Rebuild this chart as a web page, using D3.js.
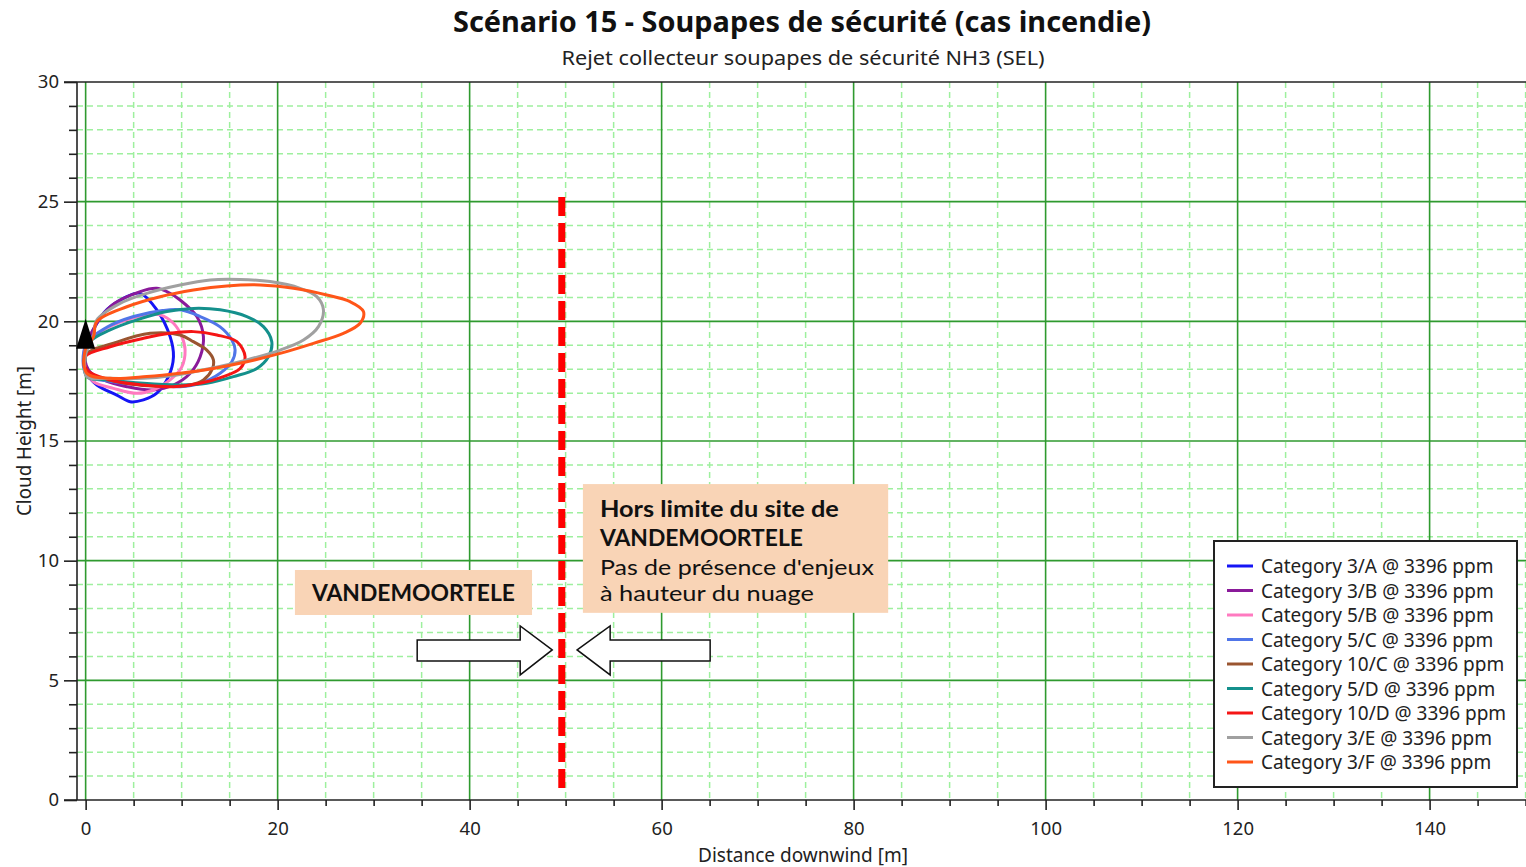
<!DOCTYPE html>
<html><head><meta charset="utf-8">
<script src="https://cdn.jsdelivr.net/npm/d3@7"></script>
<style>body{margin:0;background:#fff}svg{display:block}</style>
</head><body>
<svg id="c" width="1526" height="867"></svg>
<script>
const title = "Scénario 15 - Soupapes de sécurité (cas incendie)";
const subtitle = "Rejet collecteur soupapes de sécurité NH3 (SEL)";
const xLabel = "Distance downwind [m]";
const yLabel = "Cloud Height [m]";
const xTicks = [0,20,40,60,80,100,120,140];
const yTicks = [0,5,10,15,20,25,30];
const categories = ["Category 3/A @ 3396 ppm","Category 3/B @ 3396 ppm","Category 5/B @ 3396 ppm","Category 5/C @ 3396 ppm","Category 10/C @ 3396 ppm","Category 5/D @ 3396 ppm","Category 10/D @ 3396 ppm","Category 3/E @ 3396 ppm","Category 3/F @ 3396 ppm"];
const colors = ["#1515f5","#8a1a9a","#ff7ac0","#5075e8","#9a5530","#14908c","#f51515","#a0a0a0","#ff5518"];

const cat3A = [[0,18.87],[1.86,20.34],[3.94,20.96],[5.68,21.17],[7.41,20.48],[8.8,19.36],[9.15,18.52],[8.63,17.69],[7.41,17.0],[6.02,16.72],[4.64,16.64],[3.25,16.92],[1.17,17.34],[0.12,17.83],[-0.2,18.39]];
const cat3B = [[0,18.9],[2.55,20.61],[5.68,21.24],[7.41,21.38],[8.46,21.24],[9.84,20.89],[11.58,20.2],[12.27,19.36],[11.93,18.52],[10.89,17.83],[9.15,17.34],[7.06,17.13],[4.29,17.27],[1.86,17.55],[0.3,17.97]];
const cat5B = [[0,19.0],[1.86,19.64],[4.29,20.06],[6.37,20.27],[7.76,20.27],[9.15,19.92],[10.02,19.36],[10.36,18.8],[10.02,18.1],[8.8,17.55],[7.06,17.13],[5.33,16.99],[2.9,17.2],[0.81,17.48],[0.0,18.0]];
const cat5C = [[0,19.0],[2.2,19.75],[5.0,20.2],[8.0,20.45],[9.84,20.48],[11.93,20.2],[14.01,19.77],[15.23,19.22],[15.57,18.8],[15.23,18.31],[14.01,17.83],[11.93,17.41],[9.84,17.27],[6.0,17.35],[2.5,17.5],[0.1,17.75]];
const cat10C = [[0,18.6],[3.0,19.1],[6.72,19.5],[9.84,19.43],[11.22,19.15],[12.62,18.8],[13.31,18.39],[13.15,17.97],[12.27,17.55],[10.89,17.34],[7.0,17.3],[3.0,17.5],[0.1,17.85]];
const cat5D = [[0.47,19.15],[2.55,19.64],[5.33,20.06],[8.46,20.41],[11.23,20.54],[14.01,20.48],[16.79,20.2],[18.52,19.78],[19.39,19.15],[19.04,18.52],[17.83,18.03],[15.4,17.69],[12.62,17.41],[9.84,17.34],[6.02,17.41],[2.55,17.55],[0.12,17.69],[-0.05,18.5]];
const cat10D = [[-0.05,18.52],[2.55,18.94],[6.02,19.29],[8.8,19.5],[11.23,19.57],[13.67,19.43],[15.75,19.15],[16.61,18.52],[16.09,18.03],[14.35,17.69],[11.93,17.41],[9.15,17.27],[6.02,17.34],[2.55,17.55],[0.12,17.97]];
const cat3E = [[0.82,19.43],[1.17,20.06],[3.59,20.75],[6.37,21.17],[9.84,21.52],[12.97,21.73],[16.09,21.75],[19.22,21.66],[22.34,21.38],[24.08,21.03],[24.77,20.48],[24.25,19.78],[22.69,19.22],[20.26,18.8],[16.79,18.39],[12.97,18.03],[9.5,17.76],[6.02,17.62],[2.55,17.62],[0.12,17.69],[0,18.6]];
const cat3F = [[-0.05,18.8],[0.82,19.36],[1.17,19.99],[4.29,20.61],[7.76,21.03],[11.23,21.31],[14.71,21.48],[18.18,21.52],[21.65,21.38],[25.12,21.1],[27.55,20.82],[28.94,20.41],[28.59,19.92],[26.85,19.5],[23.73,19.08],[20.26,18.66],[16.79,18.31],[13.31,18.03],[9.84,17.83],[6.37,17.69],[2.55,17.62],[0.12,17.83]];
const seriesData = [cat3A,cat3B,cat5B,cat5C,cat10C,cat5D,cat10D,cat3E,cat3F];
const source = [0, 19.4];
const siteLimitX = 49.6;
const siteLimitY = [0.3, 25.2];

const svg = d3.select("#c");
const x = d3.scaleLinear().domain([-0.9,150]).range([77,1525.6]);
const y = d3.scaleLinear().domain([0,30]).range([800,82]);
const X0 = 77, X1 = 1526, Y0 = 800, Y1 = 82;
const uiFont = "'Noto Sans', 'Open Sans', sans-serif";

// grid
const g = svg.append("g");
g.selectAll(".mx").data(d3.range(5,151,5).filter(v=>v%20!==0)).join("line")
  .attr("x1",d=>x(d)).attr("x2",d=>x(d)).attr("y1",Y1).attr("y2",Y0)
  .attr("stroke","#9ef09e").attr("stroke-width",1.5).attr("stroke-dasharray","6,4");
g.selectAll(".my").data(d3.range(1,30).filter(v=>v%5!==0)).join("line")
  .attr("x1",X0).attr("x2",X1).attr("y1",d=>y(d)).attr("y2",d=>y(d))
  .attr("stroke","#9ef09e").attr("stroke-width",1.5).attr("stroke-dasharray","6,4");
g.selectAll(".Mx").data(xTicks).join("line")
  .attr("x1",d=>x(d)).attr("x2",d=>x(d)).attr("y1",Y1).attr("y2",Y0)
  .attr("stroke","#2f9a2f").attr("stroke-width",1.6);
g.selectAll(".My").data(yTicks.filter(v=>v>0&&v<30)).join("line")
  .attr("x1",X0).attr("x2",X1).attr("y1",d=>y(d)).attr("y2",d=>y(d))
  .attr("stroke","#2f9a2f").attr("stroke-width",1.6);

// axes
const xAxisMinor = d3.axisBottom(x).tickValues(d3.range(5,151,5).filter(v=>v%20!==0)).tickSize(6).tickFormat("");
const xAxisMajor = d3.axisBottom(x).tickValues(xTicks).tickSize(10).tickPadding(12);
const yAxisMinor = d3.axisLeft(y).tickValues(d3.range(1,30).filter(v=>v%5!==0)).tickSize(8).tickFormat("");
const yAxisMajor = d3.axisLeft(y).tickValues(yTicks).tickSize(13).tickPadding(5);
function styleAxis(sel){
  sel.select(".domain").remove();
  sel.selectAll("line").attr("stroke","#222").attr("stroke-width",1.6);
  sel.selectAll("text").attr("fill","#222").style("font-family",uiFont).style("font-size","18.5px");
}
svg.append("g").attr("transform",`translate(0,${Y0})`).call(xAxisMinor).call(styleAxis);
svg.append("g").attr("transform",`translate(0,${Y0})`).call(xAxisMajor).call(styleAxis);
svg.append("g").attr("transform",`translate(${X0},0)`).call(yAxisMinor).call(styleAxis);
svg.append("g").attr("transform",`translate(${X0},0)`).call(yAxisMajor).call(styleAxis);
// frame lines
svg.append("line").attr("x1",X0).attr("x2",X0).attr("y1",Y1).attr("y2",Y0).attr("stroke","#222").attr("stroke-width",1.6);
svg.append("line").attr("x1",64).attr("x2",X1).attr("y1",Y0).attr("y2",Y0).attr("stroke","#222").attr("stroke-width",1.6);
svg.append("line").attr("x1",64).attr("x2",X1).attr("y1",Y1).attr("y2",Y1).attr("stroke","#222").attr("stroke-width",1.6);

// clouds
const line = d3.line().x(d=>x(d[0])).y(d=>y(d[1])).curve(d3.curveCatmullRomClosed.alpha(0.5));
svg.append("g").selectAll("path").data(seriesData).join("path")
  .attr("d",line).attr("fill","none")
  .attr("stroke",(d,i)=>colors[i]).attr("stroke-width",3);

// source marker
const sx = x(source[0]), sy = y(source[1]);
svg.append("path").attr("d",`M${sx},${sy-17}L${sx+9.5},${sy+13}L${sx-9.5},${sy+13}Z`).attr("fill","#000");

// site limit
svg.append("line").attr("x1",x(siteLimitX)).attr("x2",x(siteLimitX))
  .attr("y1",y(siteLimitY[1])).attr("y2",y(siteLimitY[0]))
  .attr("stroke","#ff0000").attr("stroke-width",7).attr("stroke-dasharray","19,7");

// annotation boxes
const annFont = "'Lato', 'Noto Sans', sans-serif";
const box1 = {x0:21.8, x1:46.5, y0:9.61, y1:7.73};
svg.append("rect").attr("x",x(box1.x0)).attr("y",y(box1.y0)).attr("width",x(box1.x1)-x(box1.x0)).attr("height",y(box1.y1)-y(box1.y0)).attr("fill","#f9d4b6");
svg.append("text").attr("x",(x(box1.x0)+x(box1.x1))/2).attr("y",y(box1.y0)+31).attr("text-anchor","middle")
  .style("font-family",annFont).style("font-weight","bold").style("font-size","22px").attr("fill","#111")
  .attr("textLength",203).attr("lengthAdjust","spacingAndGlyphs").text("VANDEMOORTELE");
const box2 = {x0:51.8, x1:83.6, y0:13.2, y1:7.82};
svg.append("rect").attr("x",x(box2.x0)).attr("y",y(box2.y0)).attr("width",x(box2.x1)-x(box2.x0)).attr("height",y(box2.y1)-y(box2.y0)).attr("fill","#f9d4b6");
const lines2 = [["Hors limite du site de","bold",239,33],["VANDEMOORTELE","bold",203,62],["Pas de présence d'enjeux","normal",274,91],["à hauteur du nuage","normal",214,117]];
lines2.forEach(l=>{
  svg.append("text").attr("x",x(box2.x0)+17).attr("y",y(box2.y0)+l[3])
    .style("font-family",annFont).style("font-weight",l[1]).style("font-size","22px").attr("fill","#111")
    .attr("textLength",l[2]).attr("lengthAdjust","spacingAndGlyphs").text(l[0]);
});

// arrows
const tipR = [x(48.6), y(6.27)];
svg.append("path").attr("d",`M${tipR[0]},${tipR[1]}L${tipR[0]-32},${tipR[1]-24}L${tipR[0]-32},${tipR[1]-10}L${tipR[0]-135},${tipR[1]-10}L${tipR[0]-135},${tipR[1]+11}L${tipR[0]-32},${tipR[1]+11}L${tipR[0]-32},${tipR[1]+25}Z`)
  .attr("fill","#fff").attr("stroke","#111").attr("stroke-width",1.5);
const tipL = [x(51.2), y(6.27)];
svg.append("path").attr("d",`M${tipL[0]},${tipL[1]}L${tipL[0]+33},${tipL[1]-24}L${tipL[0]+33},${tipL[1]-10}L${tipL[0]+133},${tipL[1]-10}L${tipL[0]+133},${tipL[1]+11}L${tipL[0]+33},${tipL[1]+11}L${tipL[0]+33},${tipL[1]+25}Z`)
  .attr("fill","#fff").attr("stroke","#111").attr("stroke-width",1.5);

// legend
const lg = svg.append("g");
lg.append("rect").attr("x",1214).attr("y",541).attr("width",303).attr("height",246).attr("fill","#fff").attr("stroke","#222").attr("stroke-width",2);
categories.forEach((c,i)=>{
  const yy = 566 + i*24.5;
  lg.append("line").attr("x1",1227).attr("x2",1253).attr("y1",yy).attr("y2",yy).attr("stroke",colors[i]).attr("stroke-width",3);
  lg.append("text").attr("x",1261).attr("y",yy+7).text(c)
    .style("font-family",uiFont).style("font-size","19px").attr("fill","#222");
});

// titles
svg.append("text").attr("x",802).attr("y",32).attr("text-anchor","middle").text(title)
  .style("font-family",uiFont).style("font-weight","bold").style("font-size","28.5px").attr("fill","#111")
  .attr("textLength",698).attr("lengthAdjust","spacingAndGlyphs");
svg.append("text").attr("x",803).attr("y",65).attr("text-anchor","middle").text(subtitle)
  .style("font-family",uiFont).style("font-size","20.5px").attr("fill","#222")
  .attr("textLength",483).attr("lengthAdjust","spacingAndGlyphs");
svg.append("text").attr("x",803).attr("y",862).attr("text-anchor","middle").text(xLabel)
  .style("font-family",uiFont).style("font-size","19px").attr("fill","#222")
  .attr("textLength",210).attr("lengthAdjust","spacingAndGlyphs");
svg.append("text").attr("transform","translate(31,441) rotate(-90)").attr("text-anchor","middle").text(yLabel)
  .style("font-family",uiFont).style("font-size","19px").attr("fill","#222")
  .attr("textLength",150).attr("lengthAdjust","spacingAndGlyphs");
</script>
</body></html>
